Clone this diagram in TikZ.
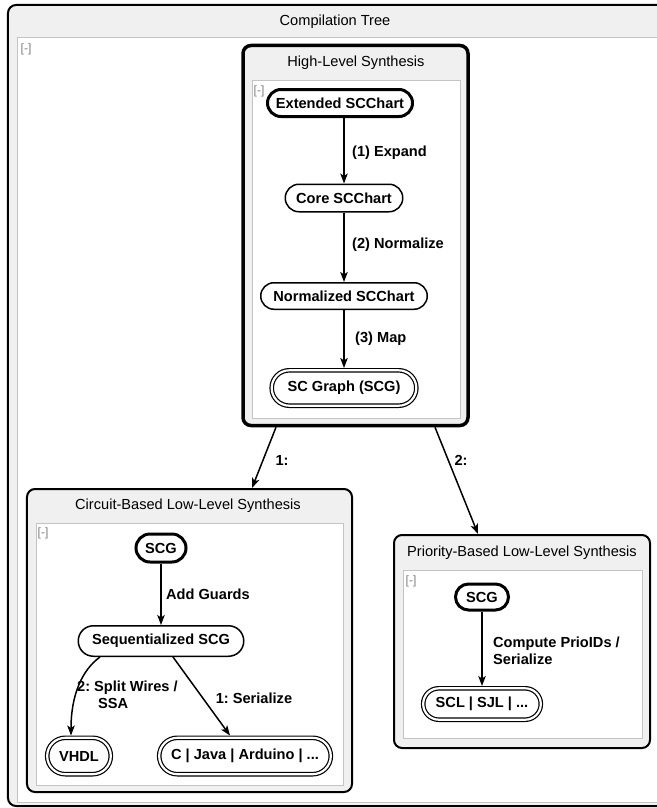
\documentclass[tikz,border=0pt]{standalone}
\usepackage{fontspec}
\setmainfont{Liberation Sans}
\usetikzlibrary{arrows.meta,calc}
\definecolor{framegray}{HTML}{F0F0F0}
\definecolor{linegray}{HTML}{C4C4C4}
\definecolor{tgray}{HTML}{808080}
\frenchspacing
\begin{document}
\begin{tikzpicture}[x=1bp,y=-1bp,
  every node/.style={inner sep=0pt},
  txt/.style={font=\fontsize{14.6bp}{17bp}\selectfont},
  btxt/.style={font=\fontsize{14.6bp}{17bp}\selectfont\bfseries},
  state/.style={rectangle, draw, line width=1.5bp, fill=white, rounded corners=13bp, btxt},
  initstate/.style={state, line width=3bp},
  finalstate/.style={rectangle, draw, fill=white, rounded corners=15.8bp, double, line width=1.2bp, double distance=2.2bp, outer sep=2.3bp, btxt},
  arr/.style={line width=1.5bp, -{Stealth[length=10bp,width=7.5bp,inset=2.5bp]}},
  elabel/.style={btxt},
  frame/.style={draw, fill=framegray, rounded corners=8bp, line width=2bp},
  innerbox/.style={draw=linegray, fill=white, line width=1bp},
  title/.style={txt},
  collapse/.style={font=\fontsize{12bp}{14bp}\selectfont, text=tgray}
]
\useasboundingbox (0,0) rectangle (657,808);
\clip (0,0) rectangle (657,808);

% Compilation Tree container
\node[frame, minimum width=660bp, minimum height=801bp] (ctree) at (338,405.5) {};
\draw[innerbox] (17,38) rectangle (680,802);
\node[title] (ctitle) at (335,21.5) {Compilation Tree};
\node[collapse] (ccol) at (26,49) {[-]};

% High-Level Synthesis container
\node[frame, line width=3.5bp, minimum width=225bp, minimum height=380bp] (hls) at (355.5,235.5) {};
\draw[innerbox] (252,80) rectangle (460,418);
\node[title] (hlstitle) at (356,63) {High-Level Synthesis};
\node[collapse] (hlscol) at (259,91) {[-]};

\node[initstate, rounded corners=13.5bp, minimum width=145bp, minimum height=27bp] (ext) at (340,103) {Extended SCChart};
\node[state, rounded corners=13.7bp, minimum width=117.5bp, minimum height=27.5bp] (core) at (344,198) {Core SCChart};
\node[state, rounded corners=13.2bp, minimum width=166.5bp, minimum height=26.5bp] (norm) at (344,296) {Normalized SCChart};
\node[finalstate, rounded corners=17.6bp, minimum width=144.6bp, minimum height=35.4bp] (scg) at (344,388) {SC Graph (SCG)};

\draw[arr] (ext.south -| core.north) -- (core.north);
\draw[arr] (core.south) -- (norm.north);
\draw[arr] (norm.south) -- (scg.north);
\node[elabel, anchor=west] (l1) at (352,153) {(1) Expand};
\node[elabel, anchor=west] (l2) at (352,245) {(2) Normalize};
\node[elabel, anchor=west] (l3) at (355,339) {(3) Map};

% Circuit-Based container
\node[frame, minimum width=325bp, minimum height=303bp] (circ) at (189.5,640.5) {};
\draw[innerbox] (36,523) rectangle (343,785);
\node[title] (circtitle) at (188,506) {Circuit-Based Low-Level Synthesis};
\node[collapse] (circcol) at (43,533) {[-]};

\node[initstate, rounded corners=14bp, minimum width=50bp, minimum height=28bp] (cscg) at (161,548) {SCG};
\node[state, rounded corners=15.2bp, minimum width=165.5bp, minimum height=30.5bp] (seq) at (161,641) {Sequentialized SCG};
\node[finalstate, rounded corners=18.1bp, minimum width=63.6bp, minimum height=36.4bp] (vhdl) at (79,756) {VHDL};
\node[finalstate, rounded corners=18.1bp, minimum width=171.6bp, minimum height=36.4bp] (cj) at (245,756) {C | Java | Arduino | ...};

\draw[arr] (cscg.south) -- (seq.north);
\node[elabel, anchor=west] (lg) at (166,594) {Add Guards};
\draw[arr] ([xshift=-61bp]seq.south) .. controls (82,670) and (71,695) .. ([xshift=-8bp]vhdl.north);
\node[elabel, anchor=north west, align=left] (lsplit) at (77,681) {2: Split Wires /\\\hspace*{21bp}SSA};
\draw[arr] ([xshift=12bp]seq.south) -- ([xshift=-15bp]cj.north);
\node[elabel] (lser) at (254,698) {1: Serialize};

% Priority-Based container
\node[frame, minimum width=256bp, minimum height=213bp] (prio) at (522,641.5) {};
\draw[innerbox] (403,570) rectangle (642,738);
\node[title] (priotitle) at (522,553) {Priority-Based Low-Level Synthesis};
\node[collapse] (priocol) at (411,581) {[-]};

\node[initstate, rounded corners=13bp, minimum width=53bp, minimum height=26bp] (pscg) at (482,597) {SCG};
\node[finalstate, rounded corners=15.6bp, minimum width=117.6bp, minimum height=31.4bp] (scl) at (482,704) {SCL | SJL | ...};
\draw[arr] (pscg.south) -- (scl.north);
\node[elabel, anchor=west, align=left] (lprio) at (493,651) {Compute PrioIDs /\\Serialize};

% edges between containers
\draw[arr] ([xshift=-79.5bp]hls.south) -- ([xshift=62.5bp]circ.north);
\node[elabel] (le1) at (282,460) {1:};
\draw[arr] ([xshift=79.5bp]hls.south) -- ([xshift=-44bp]prio.north);
\node[elabel] (le2) at (461,460) {2:};
\end{tikzpicture}
\end{document}
